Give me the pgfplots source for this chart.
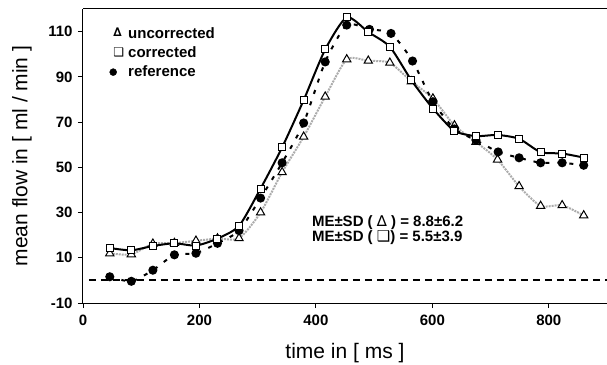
\documentclass[border=0pt]{standalone}
\usepackage{pgfplots}
\pgfplotsset{compat=1.18}
\usepackage{fontspec}
\setmainfont{Liberation Sans}
\newfontfamily\sym{DejaVu Sans}
\begin{document}
\begin{tikzpicture}
\useasboundingbox (-83pt,-61pt) rectangle (524pt,303pt);
\begin{axis}[
  at={(0,0)}, anchor=south west,
  scale only axis, width=524pt, height=294pt,
  xmin=0, xmax=900, ymin=-10, ymax=120,
  axis x line*=bottom, axis y line*=left,
  hide obscured x ticks=false, hide obscured y ticks=false,
  axis line style={line width=1pt},
  xtick={0,200,400,600,800}, ytick={-10,10,30,50,70,90,110},
  tick align=outside, major tick length=5pt,
  tick style={line width=0.8pt, black},
  /pgf/number format/assume math mode=true,
  tick label style={font=\bfseries\fontsize{15}{15}\selectfont},
  xticklabel style={yshift=-3pt},
  yticklabel style={xshift=-2pt},
  xlabel={time in [ ms ]}, ylabel={mean flow in [ ml / min ]},
  label style={font=\fontsize{21}{21}\selectfont},
  xlabel style={at={(rel axis cs:0.5,0)}, anchor=center, yshift=-50pt},
  ylabel style={at={(axis description cs:-0.1164,0.5)}, anchor=center},
  legend cell align=left,
  legend style={draw=none, fill=none, at={(rel axis cs:0,1)}, anchor=north west,
    xshift=25pt, yshift=-16pt, font=\bfseries\fontsize{15}{15}\selectfont,
    row sep=3pt, inner sep=0pt},
]
\addlegendimage{legend image code/.code={\path[draw=none] (-5pt,0) -- (13pt,0);\node[inner sep=0pt] at (0pt,0) {\fontsize{12}{12}\sym ∆};}}
\addlegendentry{uncorrected}
\addlegendimage{legend image code/.code={\path[draw=none] (-5pt,0) -- (13pt,0);\node[inner sep=0pt] at (0pt,0) {\fontsize{12}{12}\sym ❑};}}
\addlegendentry{corrected}
\addlegendimage{legend image code/.code={\path[draw=none] (-5pt,0) -- (13pt,0);\fill[black] (0pt,0) circle (3.5pt);}}
\addlegendentry{reference}

% zero line
\addplot[forget plot, black, line width=2pt, dash pattern=on 7pt off 5pt] coordinates {(10,0) (900,0)};

% uncorrected
\addplot[forget plot, smooth, tension=0.4, color=gray!65, line width=2pt, densely dotted,
  mark=triangle*, mark size=4.8pt, mark options={solid, fill=white, draw=black, line width=1pt}] coordinates {
(46,11.9) (83,11.5) (120,16.2) (157,16.5) (194,17.5) (231,18.5) (268,18.6) (305,30.0) (342,47.8) (379,63.5) (416,81.2) (453,97.7) (490,97.1) (527,96.2) (564,88.0) (601,80.4) (638,68.5) (675,61.2) (712,53.4) (749,41.6) (786,32.9) (823,33.2) (860,28.7)};

% reference
\addplot[forget plot, smooth, tension=0.4, black, line width=2pt, dash pattern=on 4pt off 8pt,
  mark=*, mark size=3.5pt, mark options={solid, fill=black}] coordinates {
(46,1.6) (83,-0.4) (120,4.5) (157,11.3) (194,12.0) (231,16.4) (268,22.0) (305,36.4) (342,52.0) (379,69.6) (416,96.6) (453,112.9) (492,111.0) (529,109.2) (566,97.0) (601,79.0) (638,67.0) (675,62.0) (713,56.8) (749,54.2) (786,52.0) (823,52.0) (860,50.9)};

% corrected
\addplot[forget plot, smooth, tension=0.4, black, line width=2pt,
  mark=square*, mark size=3.5pt, mark options={fill=white, draw=black, line width=1pt}] coordinates {
(46,14.3) (83,13.3) (120,15.2) (157,16.4) (194,15.4) (231,18.5) (268,24.1) (305,40.6) (342,58.8) (379,79.7) (416,102.1) (453,116.3) (490,109.8) (527,103.3) (564,88.5) (601,76.0) (638,66.1) (675,63.8) (712,64.3) (749,62.6) (786,56.7) (823,56.1) (860,54.3)};

\node[anchor=west, inner sep=0pt, font=\bfseries\fontsize{15}{15}\selectfont]
  at (axis cs:393,25.7) {ME±SD ( {\mdseries\sym ∆} ) = 8.8±6.2};
\node[anchor=west, inner sep=0pt, font=\bfseries\fontsize{15}{15}\selectfont]
  at (axis cs:393,19.1) {ME±SD ( {\mdseries\sym ❑}) = 5.5±3.9};
\draw[line width=1pt] (rel axis cs:0,1) -- (rel axis cs:1,1);
\end{axis}
\end{tikzpicture}
\end{document}
